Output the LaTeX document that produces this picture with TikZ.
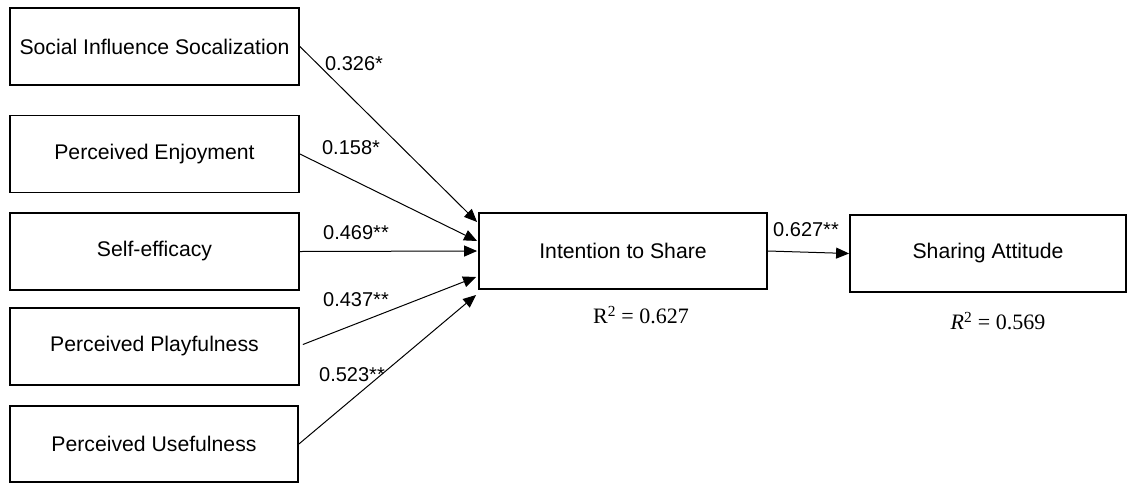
\documentclass[tikz,border=0pt]{standalone}
\usepackage{fontspec}
\setmainfont{Liberation Sans}
\newfontfamily\rsqfont{Liberation Serif}
\usetikzlibrary{arrows.meta,calc}
\tikzset{
  box/.style={draw=black, line width=1.8pt, rectangle, inner sep=0pt, font=\fontsize{21.2}{25}\selectfont},
  conn/.style={line width=1pt, -{Triangle[length=13pt,width=11pt]}},
  lbl/.style={inner sep=0pt, font=\fontsize{20}{24}\selectfont},
  rsq/.style={inner sep=0pt, font=\rsqfont\fontsize{22}{26}\selectfont}
}
\begin{document}
\begin{tikzpicture}[x=1pt,y=-1pt]
\useasboundingbox (0,0) rectangle (1127,483);
\node[box, minimum width=289pt, minimum height=77pt] (s1) at (154.5,46.5) {Social Influence Socalization};
\node[box, minimum width=289pt, minimum height=77pt] (s2) at (154.5,154) {Perceived Enjoyment};
\node[box, minimum width=289pt, minimum height=77pt] (s3) at (154.5,251.5) {Self-efficacy};
\node[box, minimum width=289pt, minimum height=77pt] (s4) at (154.5,346.5) {Perceived Playfulness};
\node[box, minimum width=288pt, minimum height=76pt] (s5) at (154,444) {Perceived Usefulness};
\node[box, minimum width=288pt, minimum height=76pt] (its) at (623,251) {Intention to Share};
\node[box, minimum width=276pt, minimum height=77pt] (sa) at (988,253.5) {Sharing Attitude};
\coordinate (e1) at ($(its.west)+(-1,-29)$);
\coordinate (e2) at ($(its.west)+(-1,-10)$);
\coordinate (e3) at ($(its.west)+(-1,0)$);
\coordinate (e4) at ($(its.west)+(-2,26)$);
\coordinate (e5) at ($(its.west)+(-2,44)$);
\draw[conn] (s1.east) -- (e1);
\draw[conn] (s2.east) -- (e2);
\draw[conn] (s3.east) -- (e3);
\draw[conn] ($(s4.east)+(3,-2)$) -- (e4);
\draw[conn] (s5.east) -- (e5);
\draw[conn] (its.east) -- (sa.west);
\node[lbl] (l1) at (354,64) {0.326*};
\node[lbl] (l2) at (351,148) {0.158*};
\node[lbl] (l3) at (356,233) {0.469**};
\node[lbl] (l4) at (356,300) {0.437**};
\node[lbl] (l5) at (352,375) {0.523**};
\node[lbl] (l6) at (806,230) {0.627**};
\node[rsq] (r1) at (641,315) {R\textsuperscript{2} = 0.627};
\node[rsq] (r2) at (998,321) {\itshape R\textsuperscript{\upshape 2}\upshape{} = 0.569};
\end{tikzpicture}
\end{document}
